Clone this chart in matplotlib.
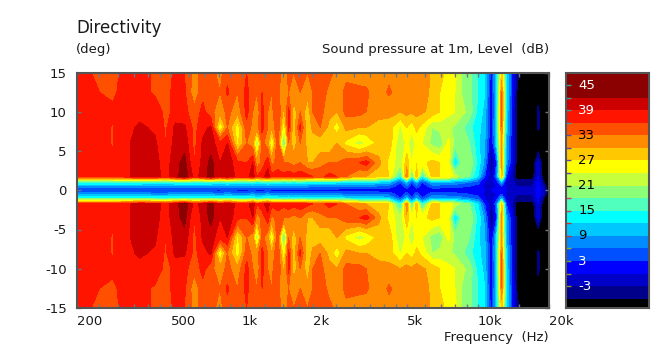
import numpy as np
import matplotlib
matplotlib.use("Agg")
import matplotlib.pyplot as plt

freqs = [200, 250, 285, 320, 370, 430, 477, 525, 573, 630,
         685, 740, 810, 870, 960, 1050, 1115, 1160, 1220, 1290,
         1340, 1420, 1510, 1580, 1660, 1770, 1900, 2000, 2150, 2350,
         2530, 2770, 3150, 3370, 3800, 4200, 4700, 5000, 5250, 5500,
         5800, 6400, 6900, 7500, 8000, 8500, 9200, 10000, 10700, 11400,
         12000, 12600, 13200, 13900, 14600, 15800, 17000, 18000, 19000, 20000]

# level (dB) per angle, one list per row, positive half of the plot
deg_15 = [37, 35.4, 35, 37, 37, 35.5, 35, 36.5, 36, 32,
          34, 34, 32, 35, 33, 36, 34, 33, 35, 34,
          34, 35, 31, 34, 33, 33.5, 33, 34, 35, 34,
          32, 32, 31, 31.5, 30, 32, 31.5, 31.5, 31.5, 31.5,
          31.5, 29.5, 28, 26, 25, 21, 19, 15, 12, 1,
          12, 28, 13, 3, -5, -9, -9, -8, -9, -9]
deg_12 = [37, 36, 35.5, 37, 37, 35.5, 35, 37, 36.5, 31,
          35, 36, 33, 36.5, 33, 37, 33.5, 33, 36, 34,
          33, 34, 30, 33, 32, 33, 31, 33, 35, 32,
          31, 34, 34, 33.5, 31, 33.5, 31.5, 31.5, 31.5, 31.5,
          31, 29.5, 27, 25.5, 24, 21, 19, 15, 12, 0,
          12, 33, 13, 3, -6, -9, -9, -8, -9, -9]
deg_10 = [37, 37, 36.5, 37, 38, 38, 35, 37, 37, 34,
          37, 34, 31, 34, 31, 37, 33, 30, 37, 33,
          32, 36, 29, 37, 28, 33, 28, 33, 34, 31,
          30, 34, 34, 33, 31, 31, 30, 31, 30.5, 31,
          30.5, 29, 27, 25, 24, 22, 20, 14, 11, -1,
          12, 34, 12, 2, -6, -10, -10, -5, -10, -10]
deg_8 = [37, 37, 35.8, 38, 39.5, 38.5, 35.5, 39.8, 39.5, 35,
         38, 39.5, 24, 33, 25, 35, 32, 31, 37, 33,
         30, 36, 24, 37, 27, 37, 27, 31, 33, 29,
         25, 31, 30, 30, 29, 28.5, 23.5, 27, 25, 28,
         26, 21, 22, 21.5, 20.5, 19, 16, 13, 10, 0,
         13, 33, 11, 2, -6, -10, -10, -5, -10, -10]
deg_6 = [37, 37, 35.8, 38, 40.8, 39.5, 36, 40.5, 41, 35,
         39.5, 40.5, 37, 39, 26, 33, 31, 20, 34, 31,
         23, 35, 15, 33, 28, 33, 29, 28, 28, 27,
         30, 26, 22.5, 24, 28, 29, 21, 25, 22, 25,
         24, 20, 18.5, 25, 20, 19, 18, 13, 9, -1,
         12, 30, 9, 2, -7, -10, -10, -10, -10, -10]
deg_3 = [37, 37, 36.5, 38, 40.5, 40, 37.5, 41, 43, 36,
         40, 43, 39, 41, 37, 36, 39, 31, 34, 38,
         32, 34, 33, 33, 32, 33, 30, 30, 32, 33,
         33, 35, 36, 37.5, 31, 26, 22, 29, 24, 27,
         26, 28, 27, 25, 11, 18, 21, 14, 8, -6,
         3, 31, 8, 1, -7, -10, -10, -1, -10, -10]
deg_2 = [37, 37, 37, 38, 40.5, 40, 38, 41, 44, 38,
         40, 43.5, 39, 41.5, 38, 38, 40.5, 36, 38, 40.5,
         37, 38, 37, 38, 37, 38, 37, 36, 35, 37,
         36, 33, 30, 30, 28, 27, 14, 33, 15, 30,
         14, 28, 27, 26, 23, 20, 18, 12, 3, -3,
         6, 29, 3, -2, -8, -8, -8, 0, -9, -10]
deg_1 = [15, 15, 15, 15, 15, 14, 14, 15, 15, 15,
         15, 15, 14, 15, 14, 14, 15, 13, 14, 15,
         14, 14, 13, 14, 13, 14, 13, 13, 13, 13,
         13, 12, 12, 12, 11, 10, 3, 10, 3, 9,
         3, 9, 9, 8, 8, 7, 6, 4, 0, -1,
         1, 9, -1, -2, -4, -4, -4, 1, -6, -10]
deg_h = [8, 8, 8, 8, 8, 7.5, 7.5, 8, 8, 8,
         8, 8, 7, 8, 7, 7, 8, 7, 7, 8,
         7, 7, 7, 7, 7, 7, 7, 6.5, 6.5, 6.5,
         6.5, 6, 6, 6, 5.5, 5, 1, 5, 1, 5,
         1, 4.5, 4.5, 4, 4, 3.5, 3, 2, -1, -1,
         0, 3, -1, -2, -3, -3, -3, 1.5, -3, -10]
deg_0 = [2.5, 2.5, 2.5, 2.5, 2.5, 2, 2, 2.5, 2.5, 2.5,
         2.5, 2, 2, 2.5, 2, 2, 2, 2, 2, 2,
         2, 2, 2, 2, 2, 2, 2, 1.5, 1.5, 1.5,
         1.5, 1, 1, 1, 1, 1, 0.5, 1, 0.5, 1,
         0.5, 1, 1, 1, 1, 1, 0.5, 0.5, 0, 0,
         0.5, 1, 0, -1, -2, -2.5, -2.5, 2, -2, -10]

angles = [0, 0.5, 1, 1.75, 3.5, 6, 8, 10, 12.5, 15]
rows = [deg_0, deg_h, deg_1, deg_2, deg_3, deg_6, deg_8, deg_10, deg_12, deg_15]

levels = [-60, -6, -3, 0, 3, 6, 9, 12, 15, 18, 21, 24, 27, 30, 33, 36, 39, 42, 60]
colors = ["#000000", "#00008b", "#0000c8", "#0000ff", "#0050ff", "#008cff",
          "#00c8ff", "#00ffff", "#50ffbe", "#8cff78", "#c8ff3c", "#ffff00",
          "#ffc800", "#ff8c00", "#ff5000", "#ff1400", "#cc0000", "#8b0000"]

major_freqs = [200, 500, 1000, 2000, 5000, 10000, 20000]
major_labels = ["200", "500", "1k", "2k", "5k", "10k", "20k"]
minor_freqs = [250, 300, 350, 400, 450, 600, 700, 800, 900, 1250, 1500, 1750,
               2500, 3000, 3500, 4000, 4500, 6000, 7000, 8000, 9000, 15000]
cbar_labels = [45, 39, 33, 27, 21, 15, 9, 3, -3]
cbar_text_colors = ["white", "white", "black", "black", "black", "black", "black", "white", "white"]
cbar_ticks = [45, 42, 39, 36, 33, 30, 27, 24, 21, 18, 15, 12, 9, 6, 3, 0, -3]
cbar_tick_colors = ["#3a9a9a", "#3a9a9a", "#3a9a9a", "#3a9a9a", "#5a4aa0", "#5a4aa0",
                    "#5a4aa0", "#5a4aa0", "#303030", "#d04070", "#d04050", "#d03030",
                    "#d03030", "#90b030", "#70a040", "#909030", "#909030"]

W, H = 666, 351
TEXT = "#1a1a1a"
FRAME = "#555555"
plt.rcParams["font.family"] = ["DejaVu Sans"]


def box(left, top, right, bottom):
    return [left / W, 1 - bottom / H, (right - left) / W, (bottom - top) / H]


fig = plt.figure(figsize=(W / 100, H / 100), dpi=100, facecolor="white")

ax = fig.add_axes(box(76.5, 72.5, 549, 308))
half = np.array(rows)
grid = np.vstack([half[:0:-1], half])
ys = [-a for a in angles[:0:-1]] + angles
ax.contourf(freqs, ys, grid, levels=levels, colors=colors, antialiased=False)
ax.set_xscale("log")
ax.set_xlim(200, 20000)
ax.set_ylim(-15, 15)
ax.set_xticks(major_freqs)
ax.set_xticklabels(major_labels, ha="left", fontsize=9.5, color=TEXT)
ax.set_xticks(minor_freqs, minor=True)
ax.set_xticklabels([], minor=True)
ax.set_yticks([-15, -10, -5, 0, 5, 10, 15])
ax.set_yticklabels(["-15", "-10", "-5", "0", "5", "10", "15"], fontsize=9.5, color=TEXT)
ax.tick_params(axis="x", which="both", direction="in", top=True, length=3, width=1,
               color="#6a7a8a", pad=5)
ax.tick_params(axis="y", direction="in", right=True, length=3, width=1, color="#6a7a8a", pad=7)
ax.set_xticklabels(major_labels, ha="left", fontsize=9.5, color=TEXT)
for spine in ax.spines.values():
    spine.set_color(FRAME)
    spine.set_linewidth(1.5)

cax = fig.add_axes(box(566, 72.5, 648.5, 308))
for i, color in enumerate(colors):
    cax.barh(levels[i], 1, height=levels[i + 1] - levels[i], left=0, color=color, align="edge")
cax.set_xlim(0, 1)
cax.set_ylim(-8.2, 48)
cax.set_xticks([])
cax.set_yticks([])
for value, color in zip(cbar_ticks, cbar_tick_colors):
    cax.plot([0, 0.065], [value, value], color=color, lw=1, solid_capstyle="butt")
for value, color in zip(cbar_labels, cbar_text_colors):
    cax.text(0.15, value, str(value), color=color, fontsize=9.5, va="center", ha="left")
for spine in cax.spines.values():
    spine.set_color(FRAME)
    spine.set_linewidth(1.5)

fig.text(76 / W, 1 - 28 / H, "Directivity", fontsize=12, color=TEXT, va="center", ha="left")
fig.text(76 / W, 1 - 50 / H, "(deg)", fontsize=9.5, color=TEXT, va="center", ha="left")
fig.text(549 / W, 1 - 50 / H, "Sound pressure at 1m, Level  (dB)", fontsize=9.5, color=TEXT,
         va="center", ha="right")
fig.text(549 / W, 1 - 338 / H, "Frequency  (Hz)", fontsize=9.5, color=TEXT, va="center", ha="right")

fig.savefig("out.png", dpi=100)
